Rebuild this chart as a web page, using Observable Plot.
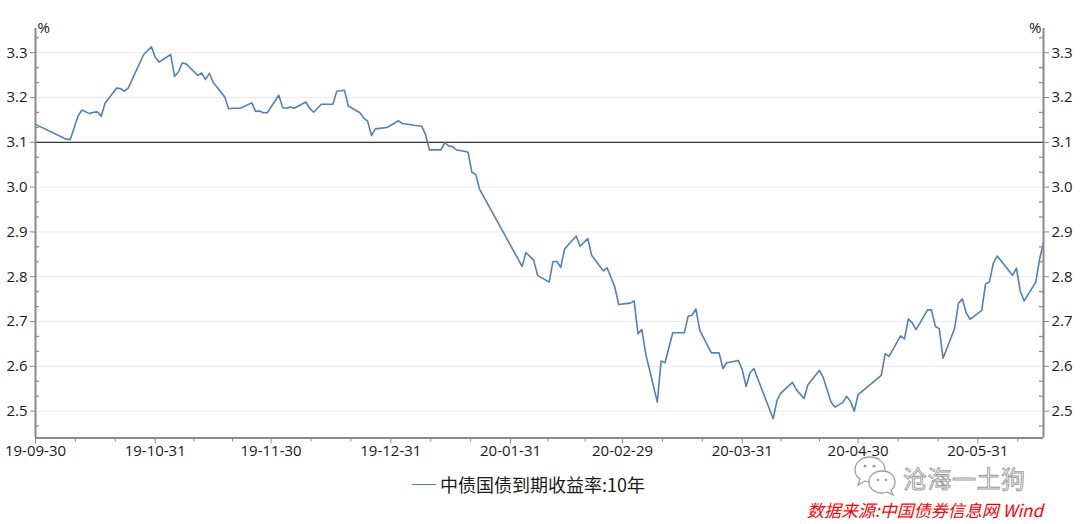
<!DOCTYPE html>
<html>
<head>
<meta charset="utf-8">
<script src="https://cdn.jsdelivr.net/npm/d3@7"></script>
<script src="https://cdn.jsdelivr.net/npm/@observablehq/plot@0.6"></script>
<style>
  body { margin: 0; background: #fff; }
  #wrap { position: relative; width: 1080px; height: 524px; overflow: hidden; background: #fff; }
  #chart { position: absolute; left: 0; top: 0; }
  #legend { position: absolute; left: 412px; top: 471px; height: 26px; display: flex; align-items: center;
            font-family: "Noto Sans CJK SC", sans-serif; font-size: 18px; color: #1a1a1a; }
  #legend .sw { width: 24px; height: 0; border-top: 1.6px solid #4f81bd; margin-right: 4px; }
  #source { position: absolute; right: 37px; top: 500px; font-family: "Noto Sans CJK SC", sans-serif;
            font-size: 17px; line-height: 1.2; font-style: italic; color: #ff0000; white-space: nowrap; }
  #wmicon { position: absolute; left: 853px; top: 454px; }
  #wmtext { position: absolute; left: 903px; top: 466px; font-family: "Noto Sans CJK SC", sans-serif;
            font-size: 24px; line-height: 1; color: #fff; -webkit-text-stroke: 0.9px #9a9a9a; white-space: nowrap; letter-spacing: 0.5px; }
</style>
</head>
<body>
<div id="wrap">
  <div id="chart"></div>
  <div id="legend"><div class="sw"></div><span>中债国债到期收益率:10年</span></div>
  <svg id="wmicon" width="44" height="42" viewBox="0 0 44 42">
    <path d="M17 3 C8 3 2 9 2 16 C2 20 4 23 7 25 L5 31 L12 27 C14 28 15 28 17 28 C26 28 32 22 32 16 C32 9 26 3 17 3 Z" fill="#fff" stroke="#a0a0a0" stroke-width="1.3"/>
    <path d="M29 17 C21 17 16 22 16 28 C16 34 21 39 29 39 C31 39 32 39 34 38 L40 41 L38 36 C41 34 42 31 42 28 C42 22 37 17 29 17 Z" fill="#fff" stroke="#a0a0a0" stroke-width="1.3"/>
    <circle cx="12" cy="12" r="1.6" fill="#a0a0a0"/>
    <circle cx="21" cy="12" r="1.6" fill="#a0a0a0"/>
    <circle cx="25" cy="26" r="1.3" fill="#a0a0a0"/>
    <circle cx="33" cy="26" r="1.3" fill="#a0a0a0"/>
  </svg>
  <div id="wmtext">沧海一土狗</div>
  <div id="source">数据来源:中国债券信息网 Wind</div>
</div>
<script>
// ---- data ----
const dates = [
  "2019-09-30","2019-10-08","2019-10-09","2019-10-11","2019-10-12","2019-10-14","2019-10-15","2019-10-16","2019-10-17","2019-10-18",
  "2019-10-21","2019-10-22","2019-10-23","2019-10-24","2019-10-28","2019-10-30","2019-10-31","2019-11-01","2019-11-04","2019-11-05",
  "2019-11-06","2019-11-07","2019-11-08","2019-11-11","2019-11-12","2019-11-13","2019-11-14","2019-11-15","2019-11-18","2019-11-19",
  "2019-11-20","2019-11-22","2019-11-25","2019-11-26","2019-11-27","2019-11-28","2019-11-29","2019-12-02","2019-12-03","2019-12-04",
  "2019-12-05","2019-12-06","2019-12-09","2019-12-10","2019-12-11","2019-12-13","2019-12-16","2019-12-17","2019-12-19","2019-12-20",
  "2019-12-23","2019-12-24","2019-12-25","2019-12-26","2019-12-27","2019-12-30","2019-12-31","2020-01-02","2020-01-03","2020-01-06",
  "2020-01-08","2020-01-09","2020-01-10","2020-01-13","2020-01-14","2020-01-15","2020-01-16","2020-01-17","2020-01-19","2020-01-20",
  "2020-01-21","2020-01-22","2020-01-23","2020-02-03","2020-02-04","2020-02-06","2020-02-07","2020-02-10","2020-02-11","2020-02-12",
  "2020-02-13","2020-02-14","2020-02-17","2020-02-18","2020-02-20","2020-02-21","2020-02-24","2020-02-25","2020-02-27","2020-02-28",
  "2020-03-02","2020-03-03","2020-03-04","2020-03-05","2020-03-06","2020-03-09","2020-03-10","2020-03-11","2020-03-13","2020-03-16",
  "2020-03-17","2020-03-18","2020-03-19","2020-03-20","2020-03-23","2020-03-25","2020-03-26","2020-03-27","2020-03-30","2020-03-31",
  "2020-04-01","2020-04-02","2020-04-03","2020-04-08","2020-04-09","2020-04-10","2020-04-13","2020-04-14","2020-04-16","2020-04-17",
  "2020-04-20","2020-04-21","2020-04-23","2020-04-24","2020-04-26","2020-04-27","2020-04-28","2020-04-29","2020-04-30","2020-05-06",
  "2020-05-07","2020-05-08","2020-05-11","2020-05-12","2020-05-13","2020-05-14","2020-05-15","2020-05-18","2020-05-19","2020-05-20",
  "2020-05-21","2020-05-22","2020-05-25","2020-05-26","2020-05-27","2020-05-28","2020-05-29","2020-06-01","2020-06-02","2020-06-03",
  "2020-06-04","2020-06-05","2020-06-09","2020-06-10","2020-06-11","2020-06-12","2020-06-15","2020-06-16","2020-06-17"
];
const yields = [
  3.140,3.107,3.106,3.158,3.172,3.164,3.167,3.168,3.158,3.187,
  3.221,3.220,3.214,3.221,3.296,3.313,3.290,3.279,3.296,3.247,
  3.257,3.277,3.275,3.249,3.255,3.240,3.254,3.234,3.201,3.175,
  3.176,3.176,3.188,3.169,3.170,3.166,3.166,3.205,3.177,3.176,
  3.179,3.176,3.190,3.176,3.167,3.185,3.185,3.214,3.216,3.181,
  3.166,3.154,3.147,3.115,3.130,3.133,3.138,3.148,3.142,3.138,
  3.136,3.117,3.083,3.083,3.099,3.092,3.090,3.083,3.080,3.078,
  3.033,3.028,2.995,2.823,2.854,2.837,2.803,2.788,2.834,2.834,
  2.821,2.862,2.891,2.868,2.885,2.848,2.813,2.820,2.777,2.738,
  2.741,2.746,2.673,2.682,2.628,2.520,2.612,2.608,2.675,2.675,
  2.712,2.714,2.728,2.680,2.630,2.630,2.595,2.608,2.613,2.592,
  2.555,2.585,2.595,2.483,2.524,2.540,2.564,2.548,2.528,2.559,
  2.591,2.574,2.520,2.509,2.519,2.533,2.522,2.500,2.537,2.580,
  2.628,2.622,2.668,2.661,2.706,2.697,2.682,2.726,2.726,2.689,
  2.684,2.618,2.685,2.741,2.750,2.719,2.705,2.725,2.784,2.788,
  2.830,2.846,2.803,2.819,2.767,2.746,2.788,2.840,2.876
];
const xTickLabels = ["2019-09-30","2019-10-31","2019-11-30","2019-12-31","2020-01-31","2020-02-29","2020-03-31","2020-04-30","2020-05-31"];
const yTicks = [2.5,2.6,2.7,2.8,2.9,3.0,3.1,3.2,3.3];
const refLevel = 3.1;
const xDomain = ["2019-09-30","2020-06-17"];
const yDomain = [2.44, 3.354];

// ---- build ----
const data = dates.map((d, i) => ({date: new Date(d), value: yields[i]}));
const xTicks = xTickLabels.map(d => new Date(d));
const xStart = new Date(xDomain[0]), xEnd = new Date(xDomain[1]);
// minor x ticks: thirds between majors
const xMinor = [];
for (let i = 0; i < xTicks.length; i++) {
  const a = +xTicks[i];
  const b = i + 1 < xTicks.length ? +xTicks[i + 1] : a + (a - +xTicks[i - 1]);
  for (const f of [1/3, 2/3]) {
    const t = a + (b - a) * f;
    if (t < +xEnd) xMinor.push(new Date(t));
  }
}
// minor y ticks: thirds between majors
const yMinor = [];
for (let k = -1; k <= 25; k++) {
  if (k % 3 === 0) continue;
  const v = 2.5 + k / 30;
  if (v >= yDomain[0] && v <= yDomain[1]) yMinor.push(v);
}

const W = 1080, H = 468, mL = 35, mR = 37, mT = 28, mB = 30.5;
const plotW = W - mL - mR;
const fmt = d3.utcFormat("%y-%m-%d");
const axisGray = "#8a8a8a";
const tickFont = "Open Sans, Noto Sans, sans-serif";

const chart = Plot.plot({
  width: W, height: H,
  marginLeft: mL, marginRight: mR, marginTop: mT, marginBottom: mB,
  style: {fontFamily: tickFont, fontSize: "15px", color: "#1a1a1a", background: "#fff"},
  x: {type: "utc", domain: [xStart, xEnd]},
  y: {domain: yDomain},
  marks: [
    Plot.ruleY(yTicks.filter(v => v !== refLevel), {stroke: "#ebebeb", strokeWidth: 1}),
    Plot.ruleY([refLevel], {stroke: "#333", strokeWidth: 1.2}),
    Plot.lineY(data, {x: "date", y: "value", stroke: "#4f81bd", strokeWidth: 1.6}),
    Plot.ruleX([xStart, xEnd], {stroke: axisGray, strokeWidth: 2}),
    Plot.ruleY([yDomain[0]], {stroke: axisGray, strokeWidth: 2}),
    Plot.tickY(yMinor, {y: d => d, stroke: axisGray, strokeWidth: 1.2, insetRight: plotW - 4}),
    Plot.tickY(yMinor, {y: d => d, stroke: axisGray, strokeWidth: 1.2, insetLeft: plotW - 4}),
    Plot.axisY({anchor: "left", ticks: yTicks, tickSize: 5, tickPadding: 3, tickFormat: d3.format(".1f"),
                label: null, stroke: axisGray, fill: "#1a1a1a", fontSize: 15}),
    Plot.axisY({anchor: "right", ticks: yTicks, tickSize: 5, tickPadding: 3, tickFormat: d3.format(".1f"),
                label: null, stroke: axisGray, fill: "#1a1a1a", fontSize: 15}),
    Plot.axisX({ticks: xMinor, tickSize: 4, tickFormat: () => "", label: null, stroke: axisGray}),
    Plot.axisX({ticks: xTicks, tickSize: 6, tickPadding: 1, tickFormat: fmt, label: null,
                stroke: axisGray, fill: "#1a1a1a", fontSize: 15}),
    Plot.text(["%"], {frameAnchor: "top-left", dx: 2, dy: 0, textAnchor: "start", lineAnchor: "middle", fontSize: 15, fill: "#1a1a1a"}),
    Plot.text(["%"], {frameAnchor: "top-right", dx: -2, dy: 0, textAnchor: "end", lineAnchor: "middle", fontSize: 15, fill: "#1a1a1a"})
  ]
});
document.getElementById("chart").appendChild(chart);
</script>
</body>
</html>
